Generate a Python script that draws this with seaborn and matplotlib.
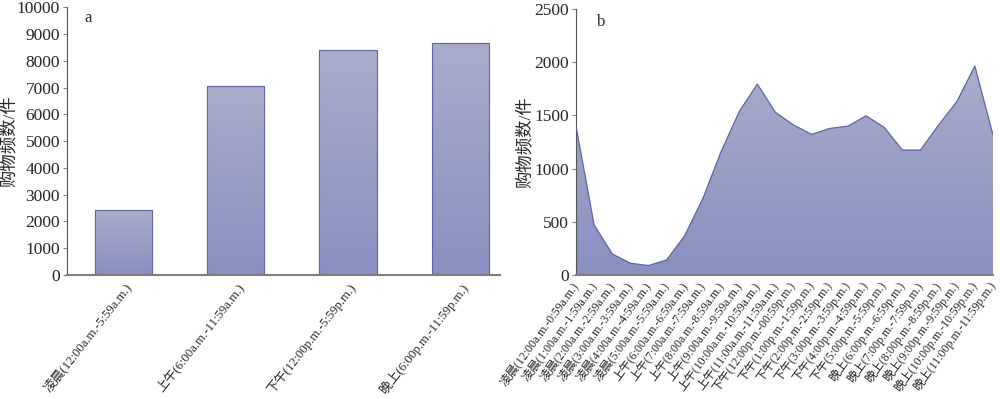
import matplotlib
matplotlib.use('Agg')
import matplotlib.pyplot as plt
import numpy as np
import pandas as pd
import seaborn as sns
from matplotlib.colors import LinearSegmentedColormap

sns.set_style('ticks')
plt.rcParams['font.family'] = ['Liberation Serif', 'Noto Sans CJK SC']
plt.rcParams['axes.unicode_minus'] = False

# 四个时段购物频数
periods = ['凌晨(12:00a.m.-5:59a.m.)', '上午(6:00a.m.-11:59a.m.)',
           '下午(12:00p.m.-5:59p.m.)', '晚上(6:00p.m.-11:59p.m.)']
period_counts = [2410, 7070, 8390, 8665]

# 每小时购物频数
hour_labels = ['凌晨(12:00a.m.-0:59a.m.)', '凌晨(1:00a.m.-1:59a.m.)', '凌晨(2:00a.m.-2:59a.m.)',
               '凌晨(3:00a.m.-3:59a.m.)', '凌晨(4:00a.m.-4:59a.m.)', '凌晨(5:00a.m.-5:59a.m.)',
               '上午(6:00a.m.-6:59a.m.)', '上午(7:00a.m.-7:59a.m.)', '上午(8:00a.m.-8:59a.m.)',
               '上午(9:00a.m.-9:59a.m.)', '上午(10:00a.m.-10:59a.m.)', '上午(11:00a.m.-11:59a.m.)',
               '下午(12:00p.m.-00:59p.m.)', '下午(1:00p.m.-1:59p.m.)', '下午(2:00p.m.-2:59p.m.)',
               '下午(3:00p.m.-3:59p.m.)', '下午(4:00p.m.-4:59p.m.)', '下午(5:00p.m.-5:59p.m.)',
               '晚上(6:00p.m.-6:59p.m.)', '晚上(7:00p.m.-7:59p.m.)', '晚上(8:00p.m.-8:59p.m.)',
               '晚上(9:00p.m.-9:59p.m.)', '晚上(10:00p.m.-10:59p.m.)', '晚上(11:00p.m.-11:59p.m.)']
hour_counts = [1400, 470, 197, 110, 88, 141, 370, 720, 1159, 1535, 1795, 1529,
               1410, 1322, 1378, 1400, 1497, 1388, 1175, 1175, 1410, 1629, 1964, 1316]

grad = LinearSegmentedColormap.from_list('g', ['#8890c0', '#aaacca'])
edge = '#5a64a6'
spine_c = '#7f7f7f'

fig = plt.figure(figsize=(10, 3.99), dpi=100)
ax1 = fig.add_axes([0.067, 0.311, 0.433, 0.671])
ax2 = fig.add_axes([0.576, 0.311, 0.417, 0.666])

# 图a 柱状图
df1 = pd.DataFrame({'period': periods, 'count': period_counts})
sns.barplot(data=df1, x='period', y='count', ax=ax1, width=0.51,
            color='#9a9fc6', edgecolor=edge, linewidth=0.8)
for p in ax1.patches:
    x0, y0 = p.get_x(), p.get_y()
    w, h = p.get_width(), p.get_height()
    im = ax1.imshow(np.linspace(0, 1, 100).reshape(-1, 1), cmap=grad, aspect='auto',
                    extent=[x0, x0 + w, y0, y0 + h], origin='lower', zorder=1)
    im.set_clip_path(p)
    p.set_facecolor('none')
    p.set_zorder(2)
ax1.set_xlim(-0.5, 3.35)
ax1.set_ylim(0, 10000)
ax1.set_yticks(np.arange(0, 10001, 1000))
ax1.set_xlabel('')
ax1.set_ylabel('购物频数/件', fontsize=12.5)
ax1.yaxis.set_label_coords(-0.113, 0.5)
ax1.set_xticks(range(len(periods)))
ax1.set_xticklabels(periods, rotation=52, ha='right', rotation_mode='anchor', fontsize=9.2)
ax1.tick_params(axis='x', length=0, pad=4)
ax1.tick_params(axis='y', labelsize=12.5, length=3, width=0.8, color=spine_c, pad=2)
ax1.text(0.04, 0.96, 'a', transform=ax1.transAxes, fontsize=12, va='center')

# 图b 面积图
df2 = pd.DataFrame({'hour': np.arange(len(hour_counts)), 'count': hour_counts})
sns.lineplot(data=df2, x='hour', y='count', ax=ax2, color=edge, linewidth=0.9, zorder=3)
fill = ax2.fill_between(df2['hour'], df2['count'], 0, color='none', linewidth=0)
im2 = ax2.imshow(np.linspace(0, 1, 100).reshape(-1, 1), cmap=grad, aspect='auto',
                 extent=[0, 23, 0, max(hour_counts)], origin='lower', zorder=2)
im2.set_clip_path(fill.get_paths()[0], ax2.transData)
ax2.set_xlim(0, 23)
ax2.set_ylim(0, 2500)
ax2.set_yticks(np.arange(0, 2501, 500))
ax2.set_xlabel('')
ax2.set_ylabel('购物频数/件', fontsize=12.5)
ax2.yaxis.set_label_coords(-0.1, 0.5)
ax2.set_xticks(range(len(hour_labels)))
ax2.set_xticklabels(hour_labels, rotation=54, ha='right', va='center',
                    rotation_mode='anchor', fontsize=8.6)
ax2.tick_params(axis='x', length=0, pad=6)
ax2.tick_params(axis='y', labelsize=12.5, length=3, width=0.8, color=spine_c, pad=2)
ax2.text(0.05, 0.95, 'b', transform=ax2.transAxes, fontsize=12, va='center')

for ax in (ax1, ax2):
    sns.despine(ax=ax)
    ax.spines['left'].set_color('#555555')
    ax.spines['left'].set_linewidth(0.8)
    ax.spines['bottom'].set_color(spine_c)
    ax.spines['bottom'].set_linewidth(1.5)

fig.savefig('out.png', dpi=100)
